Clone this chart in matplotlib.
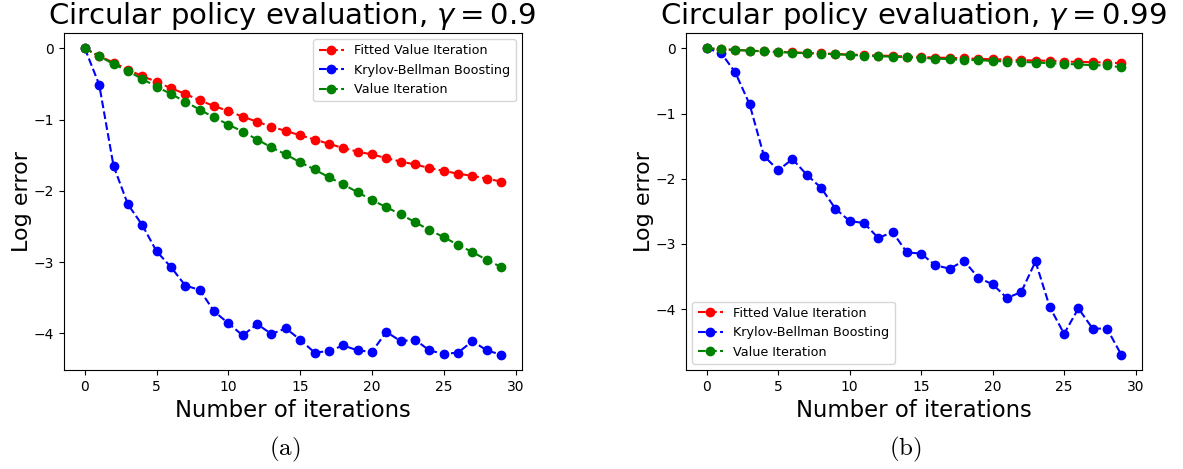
import matplotlib
matplotlib.use("Agg")
import matplotlib.pyplot as plt

iterations = list(range(30))

# gamma = 0.9
fvi_09 = [0, -0.11, -0.20, -0.30, -0.39, -0.47, -0.56, -0.64, -0.73, -0.81,
          -0.88, -0.96, -1.03, -1.10, -1.16, -1.22, -1.28, -1.34, -1.40, -1.45,
          -1.49, -1.54, -1.59, -1.63, -1.68, -1.72, -1.76, -1.79, -1.83, -1.87]
kbb_09 = [0, -0.51, -1.65, -2.19, -2.48, -2.85, -3.07, -3.33, -3.39, -3.69,
          -3.86, -4.03, -3.87, -4.01, -3.93, -4.09, -4.27, -4.25, -4.17, -4.24,
          -4.26, -3.98, -4.11, -4.09, -4.24, -4.29, -4.27, -4.11, -4.24, -4.30]
vi_09 = [0, -0.11, -0.22, -0.32, -0.43, -0.54, -0.64, -0.75, -0.86, -0.97,
         -1.07, -1.17, -1.28, -1.39, -1.49, -1.60, -1.70, -1.81, -1.91, -2.02,
         -2.13, -2.23, -2.33, -2.44, -2.55, -2.65, -2.76, -2.86, -2.97, -3.07]

# gamma = 0.99
fvi_099 = [0, -0.015, -0.025, -0.035, -0.046, -0.056, -0.061, -0.071, -0.076, -0.086,
           -0.096, -0.101, -0.111, -0.116, -0.127, -0.132, -0.142, -0.147, -0.152, -0.162,
           -0.167, -0.172, -0.182, -0.187, -0.192, -0.203, -0.208, -0.213, -0.218, -0.228]
kbb_099 = [0, -0.07, -0.37, -0.86, -1.65, -1.87, -1.70, -1.94, -2.14, -2.46,
           -2.65, -2.68, -2.91, -2.82, -3.13, -3.15, -3.33, -3.38, -3.26, -3.52,
           -3.62, -3.83, -3.74, -3.27, -3.97, -4.38, -3.99, -4.30, -4.30, -4.70]
vi_099 = [0, -0.010, -0.025, -0.035, -0.046, -0.056, -0.066, -0.076, -0.081, -0.091,
          -0.101, -0.111, -0.122, -0.127, -0.137, -0.147, -0.157, -0.167, -0.177, -0.182,
          -0.192, -0.203, -0.208, -0.218, -0.228, -0.238, -0.248, -0.258, -0.263, -0.290]

W, H = 1183, 469


def _px(x, y):
    return x / W, 1 - y / H


def draw_panel(ax, fvi, kbb, vi, legend_loc):
    ax.plot(iterations, fvi, "--o", color="red", label="Fitted Value Iteration")
    ax.plot(iterations, kbb, "--o", color="blue", label="Krylov-Bellman Boosting")
    ax.plot(iterations, vi, "--o", color="green", label="Value Iteration")
    ax.set_xticks([0, 5, 10, 15, 20, 25, 30])
    ax.set_yticks([0, -1, -2, -3, -4])
    ax.tick_params(labelsize=10)
    ax.set_ylabel("Log error", fontsize=16, labelpad=1)
    ax.set_xlabel("Number of iterations", fontsize=16.4)
    ax.legend(loc=legend_loc, fontsize=9.2)


fig = plt.figure(figsize=(W / 100, H / 100), dpi=100)
ax1 = fig.add_axes([64 / W, 1 - 370 / H, 458 / W, 337 / H])
ax2 = fig.add_axes([686 / W, 1 - 370 / H, 456 / W, 337 / H])

draw_panel(ax1, fvi_09, kbb_09, vi_09, "upper right")
draw_panel(ax2, fvi_099, kbb_099, vi_099, "lower left")

fig.text(*_px(292, 16), r"Circular policy evaluation, $\gamma = 0.9$",
         fontsize=21, ha="center", va="center")
fig.text(*_px(913, 16), r"Circular policy evaluation, $\gamma = 0.99$",
         fontsize=21, ha="center", va="center")

fig.text(*_px(285, 449), r"$\mathrm{(a)}$", fontsize=18, math_fontfamily="cm",
         ha="center", va="center")
fig.text(*_px(905, 449), r"$\mathrm{(b)}$", fontsize=18, math_fontfamily="cm",
         ha="center", va="center")

fig.savefig("out.png", dpi=100)
